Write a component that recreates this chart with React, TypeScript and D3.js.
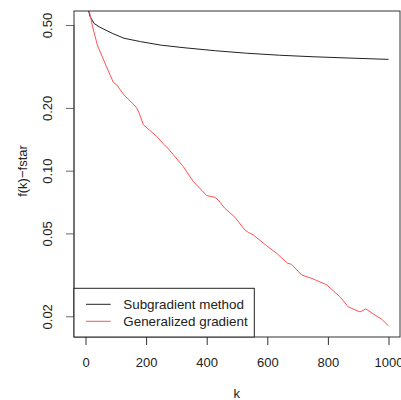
import React, { useRef, useEffect } from 'react';
import * as d3 from 'd3';

// iteration numbers and f(k) - fstar
const kSub = [1, 8, 15, 28, 45, 61, 90, 127, 182, 250, 325, 430, 532, 640, 751, 870, 1000];
const fSub = [0.70, 0.60, 0.55, 0.509, 0.49, 0.477, 0.455, 0.432, 0.416, 0.40, 0.389, 0.376, 0.366, 0.358, 0.352, 0.347, 0.342];

const kGen = [1, 12, 22, 39, 67, 92, 103, 127, 160, 169, 177, 191, 235, 262, 268, 323, 356, 400, 427, 438, 460, 493, 526, 537, 554, 598, 631, 666, 680, 713, 752, 796, 840, 867, 906, 925, 950, 977, 1000];
const fGen = [0.70, 0.59, 0.50, 0.401, 0.321, 0.265, 0.258, 0.231, 0.207, 0.200, 0.189, 0.166, 0.146, 0.132, 0.130, 0.1045, 0.0886, 0.0759, 0.0745, 0.0723, 0.0659, 0.0598, 0.0519, 0.0506, 0.0491, 0.0436, 0.0401, 0.036, 0.0355, 0.0316, 0.0302, 0.0283, 0.0248, 0.0222, 0.021, 0.0217, 0.0205, 0.0194, 0.018];

const xTicks = [0, 200, 400, 600, 800, 1000];
const yTicks = [0.02, 0.05, 0.1, 0.2, 0.5];
const yTickLabels = ['0.02', '0.05', '0.10', '0.20', '0.50'];

const seriesNames = ['Subgradient method', 'Generalized gradient'];
const seriesColors = ['#222', '#ff5252'];

function Chart() {
  const ref = useRef<SVGSVGElement>(null);

  useEffect(() => {
    const width = 401;
    const height = 400;
    const boxLeft = 74, boxRight = 400, boxTop = 11, boxBottom = 337;
    const font = '"Liberation Sans", Arial, sans-serif';

    const x = d3.scaleLinear().domain([0, 1000]).range([85.5, 388.5]);
    const y = d3.scaleLog().domain([0.02, 0.5]).range([316.3, 25]);

    const svg = d3.select(ref.current);
    svg.selectAll('*').remove();
    svg.attr('width', width).attr('height', height);

    svg.append('rect').attr('width', width).attr('height', height).attr('fill', '#fff');

    svg.append('clipPath').attr('id', 'plotclip')
      .append('rect')
      .attr('x', boxLeft).attr('y', boxTop)
      .attr('width', boxRight - boxLeft).attr('height', boxBottom - boxTop);

    const line = d3.line<[number, number]>()
      .x(d => x(d[0]))
      .y(d => y(d[1]));

    const series = [
      kSub.map((k, i) => [k, fSub[i]] as [number, number]),
      kGen.map((k, i) => [k, fGen[i]] as [number, number]),
    ];

    const g = svg.append('g').attr('clip-path', 'url(#plotclip)');
    series.forEach((s, i) => {
      g.append('path')
        .attr('fill', 'none')
        .attr('stroke', seriesColors[i])
        .attr('stroke-width', 1)
        .attr('stroke-linejoin', 'round')
        .attr('d', line(s));
    });

    // bottom axis
    svg.append('g')
      .attr('transform', `translate(0,${boxBottom})`)
      .call(d3.axisBottom(x).tickValues(xTicks).tickSize(8).tickSizeOuter(0).tickFormat(d3.format('d')))
      .call(a => a.select('.domain').remove())
      .call(a => a.selectAll('.tick line').attr('stroke', '#333'))
      .call(a => a.selectAll('.tick text')
        .attr('y', 30).attr('dy', 0)
        .attr('fill', '#222')
        .attr('font-size', 13).attr('font-family', font));

    // left axis (labels rotated like R's default)
    svg.append('g')
      .attr('transform', `translate(${boxLeft},0)`)
      .call(d3.axisLeft(y).tickValues(yTicks).tickSize(8).tickSizeOuter(0)
        .tickFormat((d, i) => yTickLabels[i]))
      .call(a => a.select('.domain').remove())
      .call(a => a.selectAll('.tick line').attr('stroke', '#666'))
      .call(a => a.selectAll('.tick text')
        .attr('x', 0).attr('dy', 0)
        .attr('transform', 'translate(-22,0) rotate(-90)')
        .attr('text-anchor', 'middle')
        .attr('fill', '#222')
        .attr('font-size', 13).attr('font-family', font));

    svg.append('line')
      .attr('x1', boxLeft).attr('x2', boxLeft)
      .attr('y1', y(0.02)).attr('y2', y(0.5))
      .attr('stroke', '#666');

    // plot box
    svg.append('rect')
      .attr('x', boxLeft).attr('y', boxTop)
      .attr('width', boxRight - boxLeft).attr('height', boxBottom - boxTop)
      .attr('fill', 'none').attr('stroke', '#333');

    // axis titles
    svg.append('text')
      .attr('x', 236.7).attr('y', 398)
      .attr('text-anchor', 'middle')
      .attr('font-size', 13).attr('font-family', font).attr('fill', '#222')
      .text('k');

    svg.append('text')
      .attr('transform', 'translate(27,171) rotate(-90)')
      .attr('text-anchor', 'middle')
      .attr('font-size', 13).attr('font-family', font).attr('fill', '#222')
      .text('f(k)\u2212fstar');

    // legend
    const legend = svg.append('g');
    legend.append('rect')
      .attr('x', boxLeft).attr('y', 288.3)
      .attr('width', 254.3 - boxLeft).attr('height', boxBottom - 288.3)
      .attr('fill', '#fff').attr('stroke', '#222');
    seriesNames.forEach((name, i) => {
      const ly = 304.3 + i * 17;
      legend.append('line')
        .attr('x1', 86).attr('x2', 110.7)
        .attr('y1', ly).attr('y2', ly)
        .attr('stroke', seriesColors[i]);
      legend.append('text')
        .attr('x', 123.3).attr('y', ly + 4.7)
        .attr('font-size', 13.4).attr('font-family', font).attr('fill', '#222')
        .text(name);
    });
  }, []);

  return <svg ref={ref} style={{ position: 'absolute', left: 0, top: 0 }}></svg>;
}

export default function App() {
  return <Chart />;
}
